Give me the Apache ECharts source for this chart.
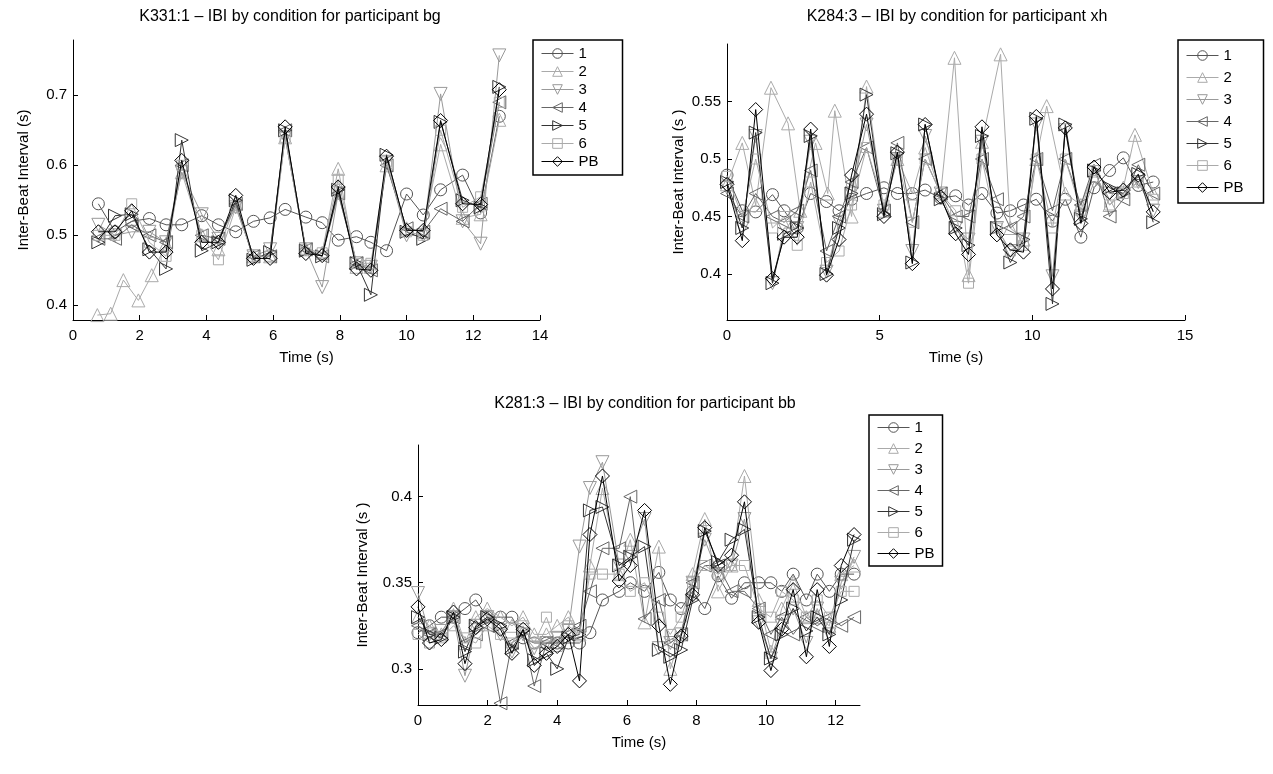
<!DOCTYPE html>
<html>
<head>
<meta charset="utf-8">
<script src="https://cdn.jsdelivr.net/npm/echarts@6/dist/echarts.min.js"></script>
<style>
  html, body { margin: 0; padding: 0; background: #fff; }
  #main { width: 1273px; height: 774px; }
</style>
</head>
<body>
<div id="main"></div>
<script>
// 系列名称（条件）
const names = ['1', '2', '3', '4', '5', '6', 'PB'];

// ---- 图 1: K331:1 participant bg ----
const t1 = [0.76, 1.26, 1.76, 2.29, 2.79, 3.26, 3.86, 4.36, 4.88, 5.41, 5.91, 6.36, 6.98, 7.47, 7.95, 8.50, 8.93, 9.40, 10.0, 10.5, 11.02, 11.68, 12.22, 12.78];
const t1b = [0.73, 1.13, 1.51, 1.96, 2.36, 2.79, 3.26, 3.86, 4.36, 4.88, 5.41, 5.91, 6.36, 6.98, 7.47, 7.95, 8.50, 8.93, 9.40, 10.0, 10.5, 11.02, 11.68, 12.22, 12.78];
const bg1 = [0.545, 0.505, 0.520, 0.524, 0.515, 0.515, 0.528, 0.515, 0.505, 0.520, 0.525, 0.537, 0.526, 0.518, 0.493, 0.498, 0.490, 0.478, 0.559, 0.529, 0.565, 0.586, 0.532, 0.670];
const bg2 = [0.386, 0.388, 0.436, 0.407, 0.443, 0.488, 0.590, 0.500, 0.480, 0.545, 0.470, 0.470, 0.640, 0.480, 0.475, 0.595, 0.455, 0.455, 0.600, 0.510, 0.505, 0.630, 0.525, 0.530, 0.665];
const bg3 = [0.515, 0.500, 0.505, 0.505, 0.490, 0.590, 0.530, 0.495, 0.540, 0.470, 0.480, 0.640, 0.480, 0.426, 0.560, 0.460, 0.455, 0.605, 0.500, 0.500, 0.702, 0.520, 0.488, 0.757];
const bg4 = [0.495, 0.495, 0.515, 0.500, 0.490, 0.600, 0.500, 0.495, 0.545, 0.470, 0.470, 0.650, 0.480, 0.470, 0.560, 0.460, 0.450, 0.600, 0.510, 0.505, 0.538, 0.520, 0.545, 0.690];
const bg5 = [0.490, 0.528, 0.530, 0.480, 0.452, 0.636, 0.478, 0.490, 0.550, 0.465, 0.476, 0.650, 0.478, 0.470, 0.565, 0.460, 0.415, 0.615, 0.505, 0.495, 0.662, 0.550, 0.540, 0.712];
const bg6 = [0.500, 0.500, 0.545, 0.490, 0.470, 0.600, 0.500, 0.465, 0.540, 0.470, 0.470, 0.640, 0.480, 0.475, 0.580, 0.460, 0.460, 0.605, 0.505, 0.500, 0.650, 0.540, 0.555, 0.690];
const bgPB = [0.505, 0.505, 0.535, 0.476, 0.476, 0.607, 0.490, 0.490, 0.557, 0.467, 0.467, 0.655, 0.474, 0.471, 0.569, 0.452, 0.450, 0.613, 0.507, 0.507, 0.664, 0.545, 0.544, 0.708];

// ---- 图 2: K284:3 participant xh ----
const t2 = [0, 0.5, 0.94, 1.49, 1.87, 2.30, 2.74, 3.26, 3.67, 4.08, 4.57, 5.14, 5.58, 6.07, 6.49, 7.0, 7.49, 7.91, 8.35, 8.84, 9.28, 9.71, 10.13, 10.66, 11.08, 11.59, 12.02, 12.53, 12.98, 13.47, 13.96];
const t2b = [0, 0.5, 0.94, 1.44, 2.0, 2.4, 2.9, 3.3, 3.53, 4.08, 4.57, 5.14, 5.58, 6.07, 6.49, 7.0, 7.45, 7.91, 8.35, 8.96, 9.28, 9.71, 10.13, 10.47, 11.08, 11.59, 12.02, 12.53, 12.98, 13.36, 13.96];
const xh1 = [0.486, 0.455, 0.454, 0.469, 0.455, 0.440, 0.470, 0.463, 0.455, 0.465, 0.470, 0.475, 0.470, 0.470, 0.473, 0.466, 0.468, 0.460, 0.470, 0.453, 0.455, 0.460, 0.465, 0.446, 0.465, 0.432, 0.475, 0.490, 0.501, 0.477, 0.480];
const xh2 = [0.478, 0.514, 0.460, 0.562, 0.531, 0.455, 0.514, 0.470, 0.542, 0.450, 0.563, 0.455, 0.500, 0.470, 0.510, 0.470, 0.588, 0.399, 0.515, 0.591, 0.440, 0.430, 0.500, 0.546, 0.470, 0.460, 0.490, 0.460, 0.475, 0.521, 0.470];
const xh3 = [0.475, 0.440, 0.520, 0.392, 0.440, 0.440, 0.515, 0.402, 0.445, 0.470, 0.530, 0.455, 0.500, 0.420, 0.520, 0.470, 0.440, 0.430, 0.515, 0.440, 0.420, 0.430, 0.530, 0.398, 0.525, 0.450, 0.480, 0.470, 0.470, 0.480, 0.455];
const xh4 = [0.470, 0.450, 0.470, 0.450, 0.445, 0.455, 0.490, 0.420, 0.450, 0.480, 0.510, 0.455, 0.514, 0.445, 0.500, 0.470, 0.450, 0.450, 0.500, 0.465, 0.440, 0.450, 0.500, 0.455, 0.500, 0.460, 0.495, 0.450, 0.465, 0.495, 0.470];
const xh5 = [0.480, 0.440, 0.523, 0.392, 0.435, 0.440, 0.520, 0.400, 0.440, 0.470, 0.556, 0.452, 0.505, 0.410, 0.530, 0.465, 0.440, 0.425, 0.520, 0.440, 0.410, 0.430, 0.535, 0.374, 0.530, 0.448, 0.490, 0.475, 0.470, 0.487, 0.445];
const xh6 = [0.485, 0.450, 0.500, 0.440, 0.450, 0.425, 0.480, 0.410, 0.420, 0.460, 0.510, 0.460, 0.500, 0.445, 0.500, 0.470, 0.455, 0.392, 0.500, 0.440, 0.420, 0.425, 0.500, 0.440, 0.500, 0.455, 0.490, 0.460, 0.470, 0.480, 0.465];
const xhPB = [0.478, 0.429, 0.543, 0.396, 0.432, 0.432, 0.526, 0.399, 0.430, 0.486, 0.539, 0.450, 0.506, 0.409, 0.530, 0.467, 0.435, 0.417, 0.528, 0.434, 0.421, 0.419, 0.537, 0.387, 0.527, 0.444, 0.493, 0.471, 0.473, 0.486, 0.454];

// ---- 图 3: K281:3 participant bb ----
const t3 = [0, 0.33, 0.67, 1.02, 1.35, 1.66, 1.99, 2.37, 2.70, 3.02, 3.34, 3.69, 4.00, 4.32, 4.64, 4.94, 5.30, 5.78, 6.10, 6.51, 6.92, 7.25, 7.56, 7.89, 8.24, 8.62, 9.01, 9.38, 9.79, 10.14, 10.45, 10.78, 11.16, 11.47, 11.82, 12.16, 12.53];
const bb1 = [0.321, 0.325, 0.330, 0.330, 0.335, 0.340, 0.330, 0.330, 0.330, 0.318, 0.315, 0.315, 0.315, 0.315, 0.315, 0.321, 0.340, 0.345, 0.350, 0.345, 0.356, 0.340, 0.335, 0.345, 0.335, 0.354, 0.341, 0.350, 0.350, 0.350, 0.345, 0.355, 0.340, 0.355, 0.345, 0.355, 0.355];
const bb2 = [0.330, 0.325, 0.320, 0.335, 0.315, 0.330, 0.335, 0.330, 0.325, 0.330, 0.320, 0.320, 0.325, 0.330, 0.320, 0.360, 0.405, 0.355, 0.375, 0.327, 0.371, 0.300, 0.320, 0.355, 0.387, 0.345, 0.360, 0.412, 0.340, 0.310, 0.335, 0.350, 0.330, 0.330, 0.325, 0.355, 0.360];
const bb3 = [0.344, 0.320, 0.322, 0.330, 0.296, 0.325, 0.330, 0.320, 0.310, 0.320, 0.312, 0.315, 0.318, 0.322, 0.371, 0.405, 0.420, 0.360, 0.365, 0.387, 0.312, 0.315, 0.320, 0.350, 0.375, 0.355, 0.360, 0.387, 0.327, 0.306, 0.325, 0.335, 0.315, 0.335, 0.320, 0.350, 0.365];
const bb4 = [0.325, 0.320, 0.320, 0.330, 0.315, 0.320, 0.325, 0.280, 0.315, 0.320, 0.290, 0.315, 0.315, 0.320, 0.325, 0.345, 0.370, 0.370, 0.400, 0.329, 0.340, 0.315, 0.320, 0.350, 0.360, 0.360, 0.345, 0.345, 0.335, 0.320, 0.330, 0.320, 0.330, 0.325, 0.330, 0.325, 0.330];
const bb5 = [0.330, 0.320, 0.318, 0.330, 0.310, 0.325, 0.330, 0.325, 0.312, 0.322, 0.305, 0.309, 0.300, 0.318, 0.320, 0.392, 0.394, 0.360, 0.365, 0.371, 0.311, 0.307, 0.311, 0.340, 0.380, 0.362, 0.375, 0.381, 0.330, 0.306, 0.320, 0.335, 0.322, 0.330, 0.320, 0.340, 0.375];
const bb6 = [0.320, 0.315, 0.318, 0.325, 0.318, 0.315, 0.325, 0.320, 0.315, 0.325, 0.315, 0.330, 0.313, 0.325, 0.320, 0.355, 0.355, 0.355, 0.345, 0.350, 0.330, 0.320, 0.330, 0.350, 0.360, 0.355, 0.360, 0.360, 0.335, 0.330, 0.345, 0.340, 0.330, 0.340, 0.330, 0.345, 0.345];
const bbPB = [0.336, 0.315, 0.317, 0.333, 0.303, 0.324, 0.329, 0.323, 0.309, 0.323, 0.302, 0.309, 0.313, 0.320, 0.293, 0.378, 0.412, 0.351, 0.360, 0.392, 0.325, 0.291, 0.319, 0.343, 0.382, 0.360, 0.366, 0.397, 0.327, 0.299, 0.323, 0.346, 0.307, 0.346, 0.313, 0.360, 0.378];

// 样式：灰度 + 空心符号
const colors = ['#555', '#aaa', '#999', '#666', '#333', '#aaa', '#000'];
const symbols = ['circle', 'triangle', 'triangle', 'triangle', 'triangle', 'rect', 'diamond'];
const rotates = [0, 0, 180, 90, -90, 0, 0];
const sizes = [12, 13, 13, 13, 13, 10, 14];

function zip(ts, vs) {
    return vs.map(function (v, i) { return [ts[i], v]; });
}

const panels = [
    { title: 'K331:1 – IBI by condition for participant bg', times: [t1, t1b, t1, t1, t1, t1, t1], data: [bg1, bg2, bg3, bg4, bg5, bg6, bgPB] },
    { title: 'K284:3 – IBI by condition for participant xh', times: [t2, t2b, t2, t2, t2, t2, t2], data: [xh1, xh2, xh3, xh4, xh5, xh6, xhPB] },
    { title: 'K281:3 – IBI by condition for participant bb', times: [t3, t3, t3, t3, t3, t3, t3], data: [bb1, bb2, bb3, bb4, bb5, bb6, bbPB] }
];

const grids = [
    { left: 73, top: 40, width: 467, height: 280 },
    { left: 727, top: 44, width: 458, height: 276 },
    { left: 418, top: 445, width: 442, height: 260 }
];
const xRanges = [[0, 14, 2], [0, 15, 5], [0, 12.7, 2]];
const yRanges = [[0.379, 0.779], [0.36, 0.60], [0.279, 0.430]];
const yTicks = [[0.4, 0.5, 0.6, 0.7], [0.4, 0.45, 0.5, 0.55], [0.3, 0.35, 0.4]];
const yNames = ['Inter-Beat Interval (s)', 'Inter-Beat Interval (s )', 'Inter-Beat Interval (s )'];
const yNameGap = [42, 41, 48];
const titlePos = [[285, 4], [952, 4], [640, 391]];
const legendPos = [
    { left: 533, top: 40, gap: 3, pad: [6, 24, 6, 8] },
    { left: 1178, top: 40, gap: 7, pad: [8, 20, 8, 8] },
    { left: 869, top: 415, gap: 6, pad: [5, 8, 5, 8] }
];

const font = 'Liberation Sans, Arial, Helvetica, sans-serif';
const axisLine = { show: true, lineStyle: { color: '#000', width: 1 } };

const myChart = echarts.init(document.getElementById('main'));

var titles = [], xAxes = [], yAxes = [], legends = [], series = [];
panels.forEach(function (p, k) {
    titles.push({
        text: p.title,
        left: titlePos[k][0],
        top: titlePos[k][1],
        textAlign: 'center',
        textStyle: { fontFamily: font, fontSize: 16, fontWeight: 'normal', color: '#000' }
    });
    xAxes.push({
        type: 'value', gridIndex: k,
        min: xRanges[k][0], max: xRanges[k][1], interval: xRanges[k][2],
        name: 'Time (s)', nameLocation: 'middle', nameGap: 30,
        nameTextStyle: { fontFamily: font, fontSize: 15, color: '#000' },
        axisLine: axisLine,
        axisTick: { show: true, inside: true, length: 5, lineStyle: { color: '#000' } },
        axisLabel: { fontFamily: font, fontSize: 15, color: '#000', margin: 8,
            showMaxLabel: k !== 2 },
        splitLine: { show: false }
    });
    yAxes.push({
        type: 'value', gridIndex: k,
        min: yRanges[k][0], max: yRanges[k][1],
        name: yNames[k], nameLocation: 'middle', nameGap: yNameGap[k],
        nameTextStyle: { fontFamily: font, fontSize: 15, color: '#000' },
        axisLine: axisLine,
        axisTick: { show: true, inside: true, length: 5, lineStyle: { color: '#000' }, customValues: yTicks[k] },
        axisLabel: { fontFamily: font, fontSize: 15, color: '#000', margin: 6, customValues: yTicks[k] },
        splitLine: { show: false }
    });
    legends.push({
        data: names,
        orient: 'vertical',
        left: legendPos[k].left, top: legendPos[k].top,
        backgroundColor: '#fff',
        borderColor: '#000', borderWidth: 1.5, borderRadius: 0,
        padding: legendPos[k].pad,
        itemGap: legendPos[k].gap, itemWidth: 32, itemHeight: 12,
        lineStyle: { width: 1 },
        itemStyle: { borderWidth: 1 },
        textStyle: { fontFamily: font, fontSize: 15, color: '#000' },
        selectedMode: false
    });
    p.data.forEach(function (vals, i) {
        series.push({
            name: names[i],
            type: 'line',
            xAxisIndex: k, yAxisIndex: k,
            data: zip(p.times[i], vals),
            symbol: symbols[i],
            symbolRotate: rotates[i],
            symbolSize: sizes[i],
            showAllSymbol: true,
            z: 2 + i,
            lineStyle: { color: colors[i], width: 1 },
            itemStyle: { color: 'transparent', borderColor: colors[i], borderWidth: 1 },
            emphasis: { disabled: true },
            animation: false
        });
    });
});

var option = {
    backgroundColor: '#fff',
    animation: false,
    title: titles,
    grid: grids,
    xAxis: xAxes,
    yAxis: yAxes,
    legend: legends,
    series: series
};
myChart.setOption(option);
</script>
</body>
</html>
